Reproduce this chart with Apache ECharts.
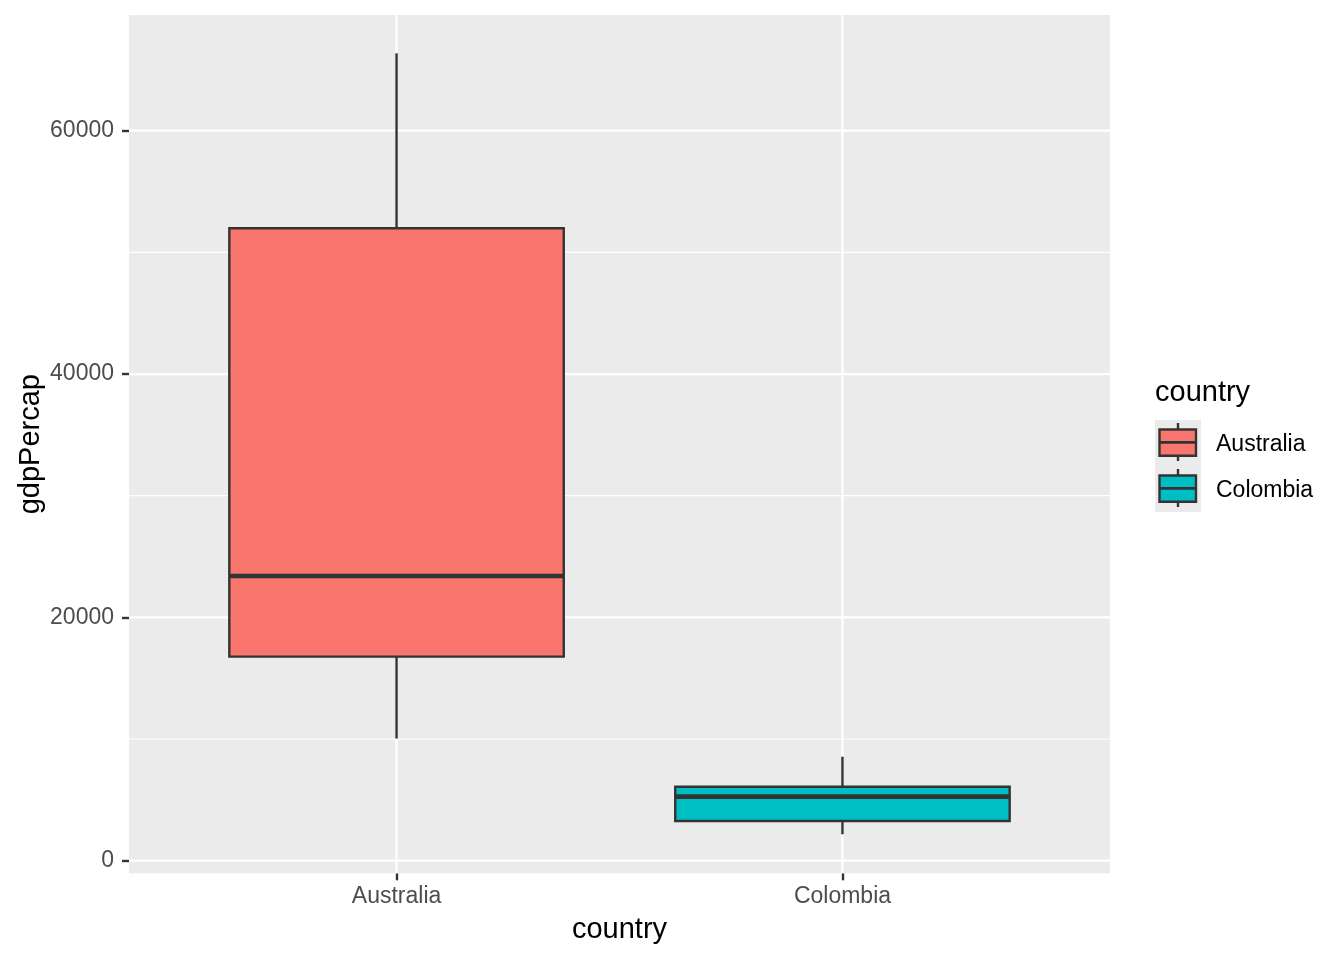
<!DOCTYPE html>
<html>
<head>
<meta charset="utf-8">
<script src="https://cdn.jsdelivr.net/npm/echarts@6/dist/echarts.min.js"></script>
<style>
html,body{margin:0;padding:0;background:#fff;}
#c{width:1344px;height:960px;}
</style>
</head>
<body>
<div id="c"></div>
<script>
// ---- data ----
var categories = ['Australia', 'Colombia'];
var fillColors = ['#F8766D', '#00BFC4'];
// [low whisker, Q1, median, Q3, high whisker]
var australiaBox = [10040, 16770, 23400, 51980, 66360];
var colombiaBox  = [2170, 3260, 5260, 6080, 8550];
var yTicks = [0, 20000, 40000, 60000];
var yMinor = [10000, 30000, 50000];
var xTicks = [1, 2];

var boxes = [australiaBox, colombiaBox];
var boxData = boxes.map(function (b, i) { return [i + 1].concat(b); });
var gridData = []
  .concat(yTicks.map(function (v) { return ['yMajor', v]; }))
  .concat(yMinor.map(function (v) { return ['yMinor', v]; }))
  .concat(xTicks.map(function (v) { return ['xMajor', v]; }));

var FONT = '"Liberation Sans", Arial, sans-serif';
var DARK = '#333333';
var TICK_FS = 23;
var TITLE_FS = 29;
var LW = 2.4;

var chart = echarts.init(document.getElementById('c'), null, { renderer: 'canvas' });

var option = {
  animation: false,
  backgroundColor: '#ffffff',
  textStyle: { fontFamily: FONT },
  grid: {
    left: 129, right: 234, top: 15, bottom: 86.7,
    containLabel: false, outerBoundsMode: 'none',
    show: true, backgroundColor: '#EBEBEB', borderWidth: 0
  },
  xAxis: {
    type: 'value', min: 0.4, max: 2.6,
    name: 'country', nameLocation: 'middle', nameGap: 42, nameMoveOverlap: false,
    nameTextStyle: { fontSize: TITLE_FS, color: '#000', fontFamily: FONT },
    axisLine: { show: false, onZero: false },
    splitLine: { show: false },
    axisTick: { show: true, customValues: xTicks, length: 7, lineStyle: { color: DARK, width: LW } },
    axisLabel: {
      customValues: xTicks, margin: 12, fontSize: TICK_FS, color: '#4D4D4D', fontFamily: FONT,
      formatter: function (v) { return categories[Math.round(v) - 1] || ''; }
    }
  },
  yAxis: {
    type: 'value', min: -1036, max: 69510,
    name: 'gdpPercap', nameLocation: 'middle', nameGap: 84, nameRotate: 90, nameMoveOverlap: false,
    nameTextStyle: { fontSize: TITLE_FS, color: '#000', fontFamily: FONT },
    axisLine: { show: false, onZero: false },
    splitLine: { show: false },
    axisTick: { show: true, customValues: yTicks, length: 7, lineStyle: { color: DARK, width: LW } },
    axisLabel: {
      customValues: yTicks, margin: 15, fontSize: TICK_FS, color: '#4D4D4D', fontFamily: FONT,
      formatter: function (v) { return String(v); }
    }
  },
  series: [
    {
      type: 'custom', name: 'grid', z: 1, silent: true,
      data: gridData,
      encode: { x: -1, y: -1 },
      renderItem: function (params, api) {
        var cs = params.coordSys;
        var kind = gridData[params.dataIndex][0];
        var v = gridData[params.dataIndex][1];
        var shape, w;
        if (kind === 'xMajor') {
          var px = api.coord([v, 0])[0];
          shape = { x1: px, y1: cs.y, x2: px, y2: cs.y + cs.height };
          w = 2.3;
        } else {
          var py = api.coord([1, v])[1];
          shape = { x1: cs.x, y1: py, x2: cs.x + cs.width, y2: py };
          w = kind === 'yMajor' ? 2.3 : 1.15;
        }
        return { type: 'line', shape: shape, style: { stroke: '#ffffff', lineWidth: w } };
      }
    },
    {
      type: 'custom', name: 'boxes', z: 3,
      data: boxData,
      encode: { x: 0, y: [1, 2, 3, 4, 5] },
      renderItem: function (params, api) {
        var x = api.value(0);
        var lo = api.coord([x, api.value(1)]);
        var q1 = api.coord([x, api.value(2)]);
        var md = api.coord([x, api.value(3)]);
        var q3 = api.coord([x, api.value(4)]);
        var hi = api.coord([x, api.value(5)]);
        var halfW = api.size([0.75, 0])[0] / 2;
        var cx = md[0];
        var fill = fillColors[params.dataIndex];
        return {
          type: 'group',
          children: [
            { type: 'line', shape: { x1: cx, y1: hi[1], x2: cx, y2: q3[1] }, style: { stroke: DARK, lineWidth: LW } },
            { type: 'line', shape: { x1: cx, y1: q1[1], x2: cx, y2: lo[1] }, style: { stroke: DARK, lineWidth: LW } },
            { type: 'rect', shape: { x: cx - halfW, y: q3[1], width: 2 * halfW, height: q1[1] - q3[1] },
              style: { fill: fill, stroke: DARK, lineWidth: LW } },
            { type: 'line', shape: { x1: cx - halfW, y1: md[1], x2: cx + halfW, y2: md[1] }, style: { stroke: DARK, lineWidth: 4.7 } }
          ]
        };
      }
    }
  ],
  graphic: []
};

// legend (drawn with graphic elements)
var legendX = 1155, legendTop = 420, keySize = 46;
var g = [];
g.push({ type: 'text', x: legendX, y: 393, style: { text: 'country', font: TITLE_FS + 'px ' + FONT, fill: '#000', verticalAlign: 'middle' } });
g.push({ type: 'rect', shape: { x: legendX, y: legendTop, width: keySize, height: keySize * categories.length }, style: { fill: '#EBEBEB' }, z: 1 });
categories.forEach(function (name, i) {
  var top = legendTop + i * keySize;
  var cx = legendX + 23;
  g.push({ type: 'line', shape: { x1: cx, y1: top + 3, x2: cx, y2: top + 41 }, style: { stroke: DARK, lineWidth: LW }, z: 2 });
  g.push({ type: 'rect', shape: { x: legendX + 4.5, y: top + 9.5, width: 36.5, height: 26.3 }, style: { fill: fillColors[i], stroke: DARK, lineWidth: LW }, z: 3 });
  g.push({ type: 'line', shape: { x1: legendX + 4.5, y1: top + 22.3, x2: legendX + 41, y2: top + 22.3 }, style: { stroke: DARK, lineWidth: 2.8 }, z: 4 });
  g.push({ type: 'text', x: 1216, y: top + 25, style: { text: name, font: TICK_FS + 'px ' + FONT, fill: '#000', verticalAlign: 'middle' }, z: 4 });
});
option.graphic = g;

chart.setOption(option);
</script>
</body>
</html>
